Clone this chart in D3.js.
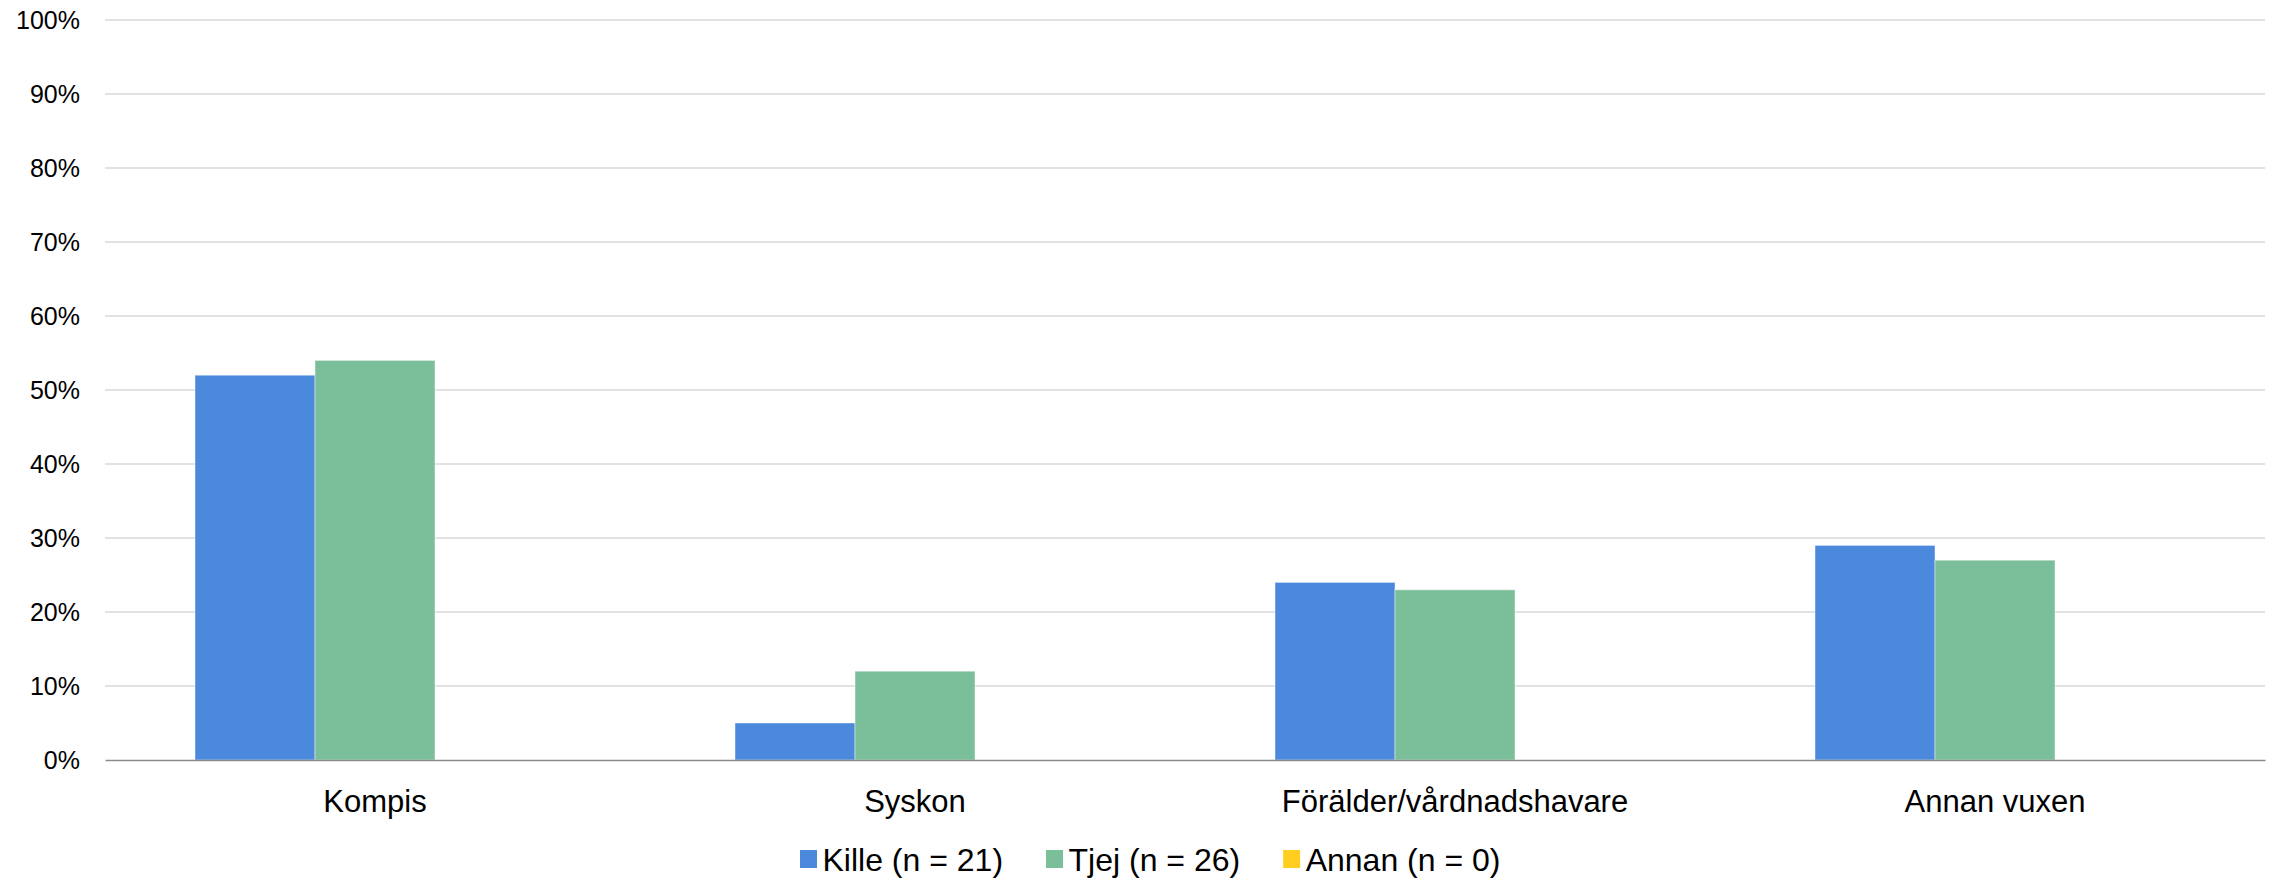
<!DOCTYPE html>
<html>
<head>
<meta charset="utf-8">
<script src="https://cdn.jsdelivr.net/npm/d3@7"></script>
<style>
  html, body { margin: 0; padding: 0; background: #ffffff; }
  svg { display: block; }
</style>
</head>
<body>
<svg id="chart" width="2277" height="878"></svg>
<script>
const categories = ["Kompis", "Syskon", "Förälder/vårdnadshavare", "Annan vuxen"];
const seriesNames = ["Kille (n = 21)", "Tjej (n = 26)", "Annan (n = 0)"];
const kille = [0.52, 0.05, 0.24, 0.29];
const tjej = [0.54, 0.12, 0.23, 0.27];
const annan = [0, 0, 0, 0];
const yTicks = [0, 0.1, 0.2, 0.3, 0.4, 0.5, 0.6, 0.7, 0.8, 0.9, 1.0];
const colors = ["#4A89DC", "#7BBF9A", "#FFCE21"];

const seriesValues = [kille, tjej, annan];

const svg = d3.select("#chart");
const W = 2277, H = 878;
const m = { left: 105, right: 12, top: 20, bottom: 118 };
const x0 = m.left, x1 = W - m.right, yTop = m.top, yBot = H - m.bottom;

const x = d3.scaleBand().domain(categories).range([x0, x1]).paddingInner(0).paddingOuter(0);
const bw = x.bandwidth();
const xs = d3.scaleBand().domain(seriesNames).range([bw / 6, bw * 5 / 6]).padding(0);
const y = d3.scaleLinear().domain([0, 1]).range([yBot, yTop]);

// gridlines
svg.append("g")
  .selectAll("line")
  .data(yTicks.filter(d => d > 0))
  .join("line")
  .attr("x1", x0).attr("x2", x1)
  .attr("y1", d => y(d)).attr("y2", d => y(d))
  .attr("stroke", "#d9d9d9").attr("stroke-width", 1.5);

// y axis labels
const yAxis = d3.axisLeft(y).tickValues(yTicks).tickFormat(d3.format(".0%")).tickSize(0).tickPadding(25);
const gy = svg.append("g").attr("transform", `translate(${x0},0)`).call(yAxis);
gy.select(".domain").remove();
gy.selectAll("text")
  .attr("font-family", "'Liberation Sans', Arial, sans-serif")
  .attr("font-size", 25)
  .attr("fill", "#000")
  .attr("dy", "0.35em");

// bars
const data = [];
categories.forEach((c, i) => {
  seriesNames.forEach((s, j) => {
    data.push({ cat: c, ser: s, val: seriesValues[j][i], color: colors[j] });
  });
});
svg.append("g")
  .selectAll("rect")
  .data(data)
  .join("rect")
  .attr("x", d => x(d.cat) + xs(d.ser))
  .attr("width", xs.bandwidth())
  .attr("y", d => y(d.val))
  .attr("height", d => y(0) - y(d.val))
  .attr("fill", d => d.color)
  .attr("stroke", "rgba(255,255,255,0.45)")
  .attr("stroke-width", d => d.val > 0 ? 1 : 0);

// x axis
const xAxis = d3.axisBottom(x).tickSize(0).tickPadding(30);
const gx = svg.append("g").attr("transform", `translate(0,${yBot})`).call(xAxis);
gx.select(".domain").attr("stroke", "#8c8c8c").attr("stroke-width", 1.5);
gx.selectAll("text")
  .attr("font-family", "'Liberation Sans', Arial, sans-serif")
  .attr("font-size", 31)
  .attr("fill", "#000")
  .attr("dy", "0.71em");

// legend
const lg = svg.append("g").attr("transform", "translate(800,0)");
let cx = 0;
seriesNames.forEach((s, j) => {
  const g = lg.append("g").attr("transform", `translate(${cx},0)`);
  g.append("rect").attr("x", 0).attr("y", 850).attr("width", 17).attr("height", 18).attr("fill", colors[j]);
  const t = g.append("text")
    .attr("x", 22.5).attr("y", 871)
    .attr("font-family", "'Liberation Sans', Arial, sans-serif")
    .attr("font-size", 32)
    .attr("fill", "#000")
    .text(s);
  const w = t.node().getComputedTextLength();
  cx += 22.5 + w + 43;
});
</script>
</body>
</html>
